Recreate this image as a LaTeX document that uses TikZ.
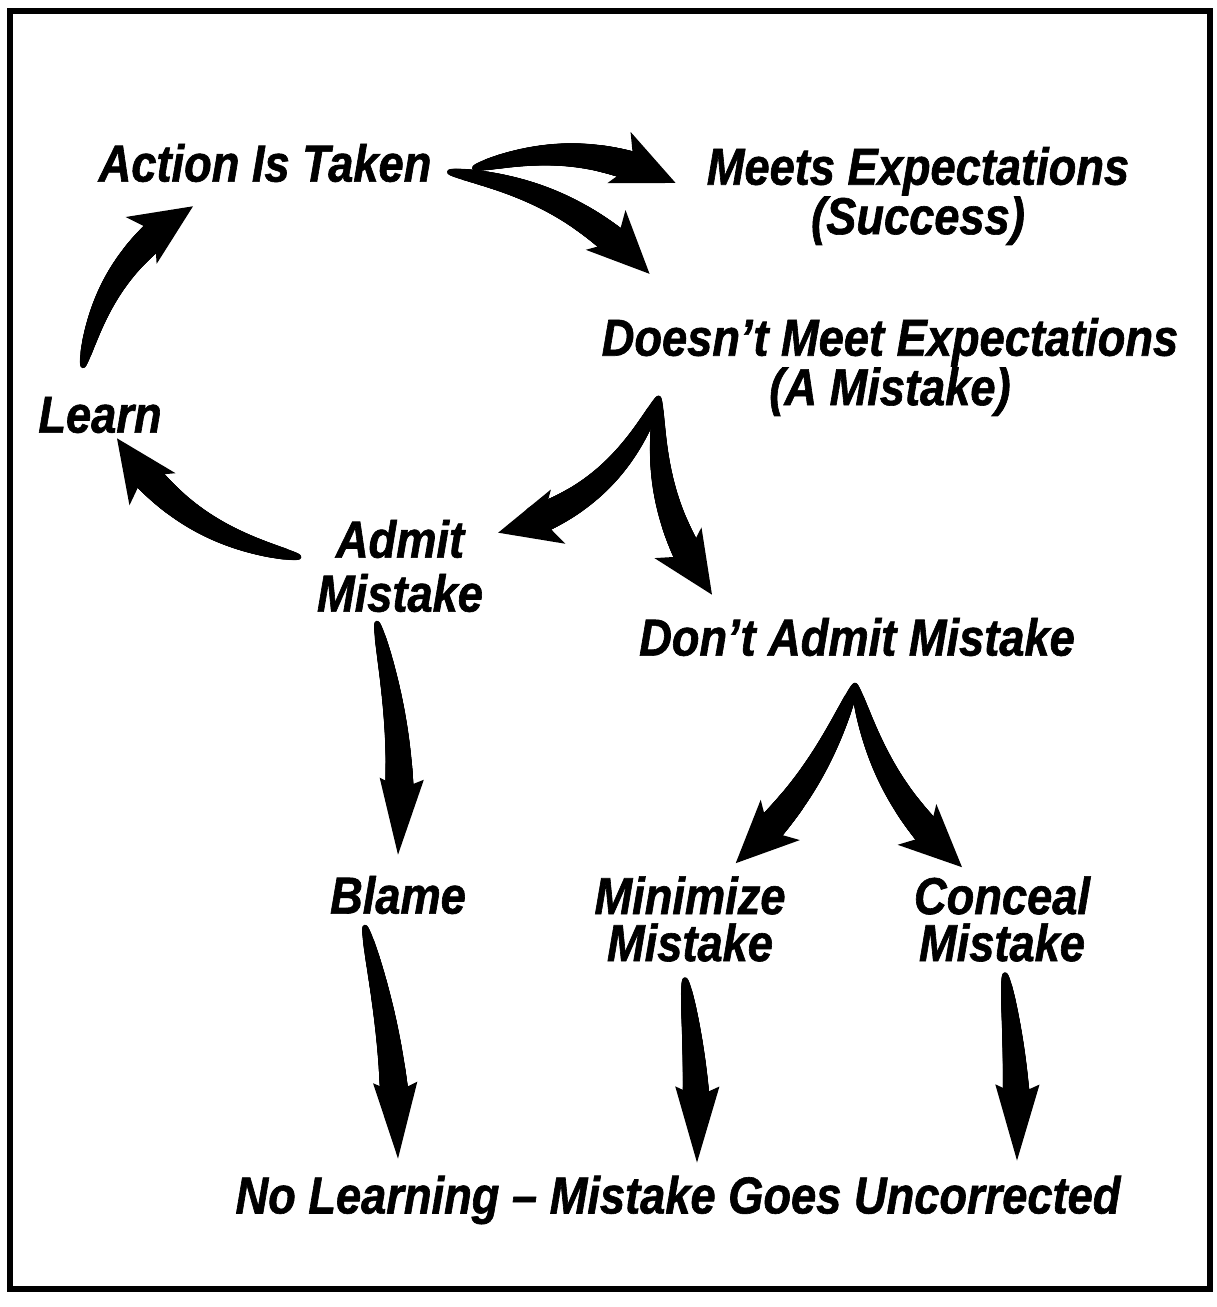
\documentclass[tikz,border=0pt]{standalone}
\usepackage{fontspec}
\setmainfont{Liberation Sans}[FakeStretch=0.87, BoldItalicFeatures={FakeBold=1.2}]
\usetikzlibrary{arrows.meta, decorations.markings}

\begin{document}
\begin{tikzpicture}[
    x = 1pt, y = 1pt,
    phrase/.style={
      inner sep = 0pt,
      align = center,
      font = \bfseries\itshape\fontsize{52}{47}\selectfont,
    },
    taper/.style={
      postaction = {decorate},
      decoration = {markings,
        mark = between positions 0 and -#1 step 1pt with {
          \pgfmathsetmacro\taperrad{2.5 + 14*pow(\pgfkeysvalueof{/pgf/decoration/mark info/distance from start}/\pgfdecoratedpathlength, 0.55)}
          \fill (0,0) circle (\taperrad pt);
        }},
    },
    flow/.style={
      line width = 1.5pt,
      -{Stealth[length=62pt, width=56pt, inset=16pt]},
      taper = 42pt,
    },
    drop/.style={
      line width = 1.5pt,
      -{Stealth[length=76pt, width=44pt, inset=10pt]},
      taper = 58pt,
    },
  ]
  \useasboundingbox (0,0) rectangle (1217,1307);
  \draw[line width = 6pt] (10,18) rectangle (1210,1296);

  \node[phrase] (act) at (265,1144) {Action Is Taken};
  \node[phrase] (meets) at (918,1111) {Meets Expectations\\(Success)};
  \node[phrase] (doesnt) at (890,940) {Doesn’t Meet Expectations\\(A Mistake)};
  \node[phrase] (learn) at (100,892) {Learn};
  \node[phrase, font = \bfseries\itshape\fontsize{52}{54}\selectfont] (admit) at (400,741) {Admit\\Mistake};
  \node[phrase] (dont) at (857,670) {Don’t Admit Mistake};
  \node[phrase] (blame) at (398,412) {Blame};
  \node[phrase] (minim) at (690,388) {Minimize\\Mistake};
  \node[phrase] (conc) at (1002,388) {Conceal\\Mistake};
  \node[phrase] (nolearn) at (678,107) {No Learning – Mistake Goes Uncorrected};

  % the loop
  \draw[flow] ([shift={(43,-5)}]act.east) to[bend left=20] ([shift={(-31,13)}]meets.west);
  \draw[flow] ([shift={(18,-9)}]act.east) to[bend left=18] ([shift={(48,44)}]doesnt.north west);
  \draw[flow] ([shift={(57,18)}]doesnt.south west) to[bend left=25] ([shift={(15,-13)}]admit.north east);
  \draw[flow] ([shift={(57,18)}]doesnt.south west) to[bend right=18] ([shift={(73,23)}]dont.north west);
  \draw[flow] ([shift={(-18,9)}]admit.west) to[bend left=22] ([shift={(17,-5)}]learn.south);
  \draw[flow] ([shift={(-17,31)}]learn.north) to[bend left=22] ([shift={(-72,-24)}]act.south);

  % the other branch
  \draw[drop] ([shift={(-23,-11)}]admit.south) to[bend left=8] ([shift={(0,21)}]blame.north);
  \draw[flow] ([shift={(-2,-29)}]dont.south) to[bend left=12] ([shift={(-50,13)}]minim.north east);
  \draw[flow] ([shift={(-2,-29)}]dont.south) to[bend right=16] ([shift={(-40,9)}]conc.north);
  \draw[drop] ([shift={(-33,-13)}]blame.south) to[bend left=6] ([shift={(-280,17)}]nolearn.north);
  \draw[drop] ([shift={(-5,-18)}]minim.south) to[bend left=4] ([shift={(19,13)}]nolearn.north);
  \draw[drop] ([shift={(3,-13)}]conc.south) to[bend left=4] ([shift={(339,15)}]nolearn.north);
\end{tikzpicture}
\end{document}
